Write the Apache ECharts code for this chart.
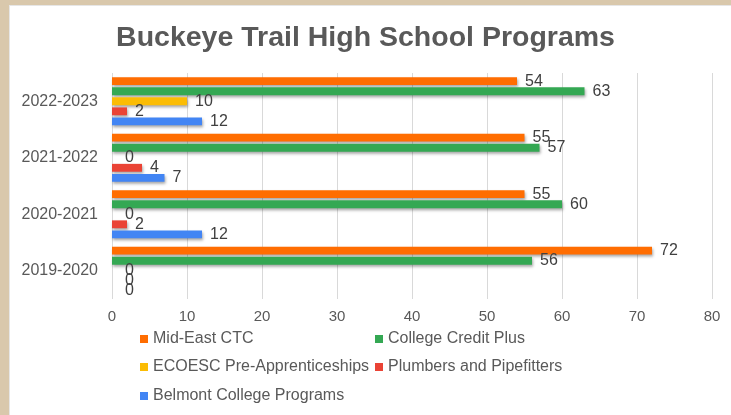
<!DOCTYPE html>
<html>
<head>
<meta charset="utf-8">
<script src="https://cdn.jsdelivr.net/npm/echarts@6/dist/echarts.min.js"></script>
<style>
html,body{margin:0;padding:0;background:#fff;}
#c{width:731px;height:415px;}
</style>
</head>
<body>
<div id="c"></div>
<script>
const categories = ['2019-2020', '2020-2021', '2021-2022', '2022-2023'];
const seriesNames = ['Mid-East CTC', 'College Credit Plus', 'ECOESC Pre-Apprenticeships', 'Plumbers and Pipefitters', 'Belmont College Programs'];
const midEastCTC = [72, 55, 55, 54];
const collegeCreditPlus = [56, 60, 57, 63];
const ecoescPreApprenticeships = [0, 0, 0, 10];
const plumbersPipefitters = [0, 2, 4, 2];
const belmontCollege = [0, 12, 7, 12];
const xTicks = [0, 10, 20, 30, 40, 50, 60, 70, 80];

const colors = ['#ff6d01', '#34a853', '#fbbc04', '#ea4335', '#4285f4'];
const allValues = [midEastCTC, collegeCreditPlus, ecoescPreApprenticeships, plumbersPipefitters, belmontCollege];
const FONT = '"Liberation Sans", Arial, sans-serif';

const series = seriesNames.map((name, i) => ({
  name: name,
  type: 'bar',
  barGap: '28%',
  barCategoryGap: '15%',
  itemStyle: {
    color: colors[i],
    shadowColor: 'rgba(0,0,0,0.35)',
    shadowBlur: 3,
    shadowOffsetX: 1,
    shadowOffsetY: 2
  },
  label: {
    show: true,
    position: 'right',
    distance: 8,
    color: '#404040',
    fontSize: 16,
    fontFamily: FONT
  },
  data: allValues[i].map(v => v === 0 ? { value: v, label: { distance: 13 } } : v)
}));

const legendPos = [
  { left: 140, top: 331 },
  { left: 375, top: 331 },
  { left: 140, top: 359 },
  { left: 375, top: 359 },
  { left: 140, top: 388 }
];
const legends = seriesNames.map((name, i) => ({
  data: [name],
  left: legendPos[i].left,
  top: legendPos[i].top,
  itemWidth: 8,
  itemHeight: 8,
  icon: 'rect',
  padding: 0,
  textStyle: { color: '#595959', fontSize: 16, fontFamily: FONT },
  selectedMode: false
}));

const chart = echarts.init(document.getElementById('c'));
chart.setOption({
  animation: false,
  backgroundColor: '#fff',
  title: {
    text: 'Buckeye Trail High School Programs',
    left: 'center',
    top: 19,
    textStyle: { color: '#595959', fontSize: 28.5, fontWeight: 'bold', fontFamily: FONT }
  },
  graphic: [
    { type: 'rect', shape: { x: 0, y: 0, width: 731, height: 5 }, style: { fill: '#d9c8ac' }, z: 100 },
    { type: 'rect', shape: { x: 0, y: 0, width: 9, height: 415 }, style: { fill: '#d9c8ac' }, z: 100 },
    { type: 'rect', shape: { x: 9, y: 5, width: 722, height: 1 }, style: { fill: '#e6e6e6' }, z: 100 },
    { type: 'rect', shape: { x: 9, y: 5, width: 1, height: 410 }, style: { fill: '#e6e6e6' }, z: 100 }
  ],
  legend: legends,
  grid: { left: 112, right: 19, top: 73, bottom: 116, containLabel: false },
  xAxis: {
    type: 'value',
    min: xTicks[0],
    max: xTicks[xTicks.length - 1],
    interval: 10,
    axisLine: { show: false },
    axisTick: { show: false },
    splitLine: { show: true, lineStyle: { color: '#d9d9d9', width: 1 } },
    axisLabel: { color: '#595959', fontSize: 15, fontFamily: FONT, margin: 10 }
  },
  yAxis: {
    type: 'category',
    data: categories,
    axisLine: { show: false },
    axisTick: { show: false },
    axisLabel: { color: '#595959', fontSize: 16, fontFamily: FONT, margin: 14 }
  },
  series: series
});
</script>
</body>
</html>
